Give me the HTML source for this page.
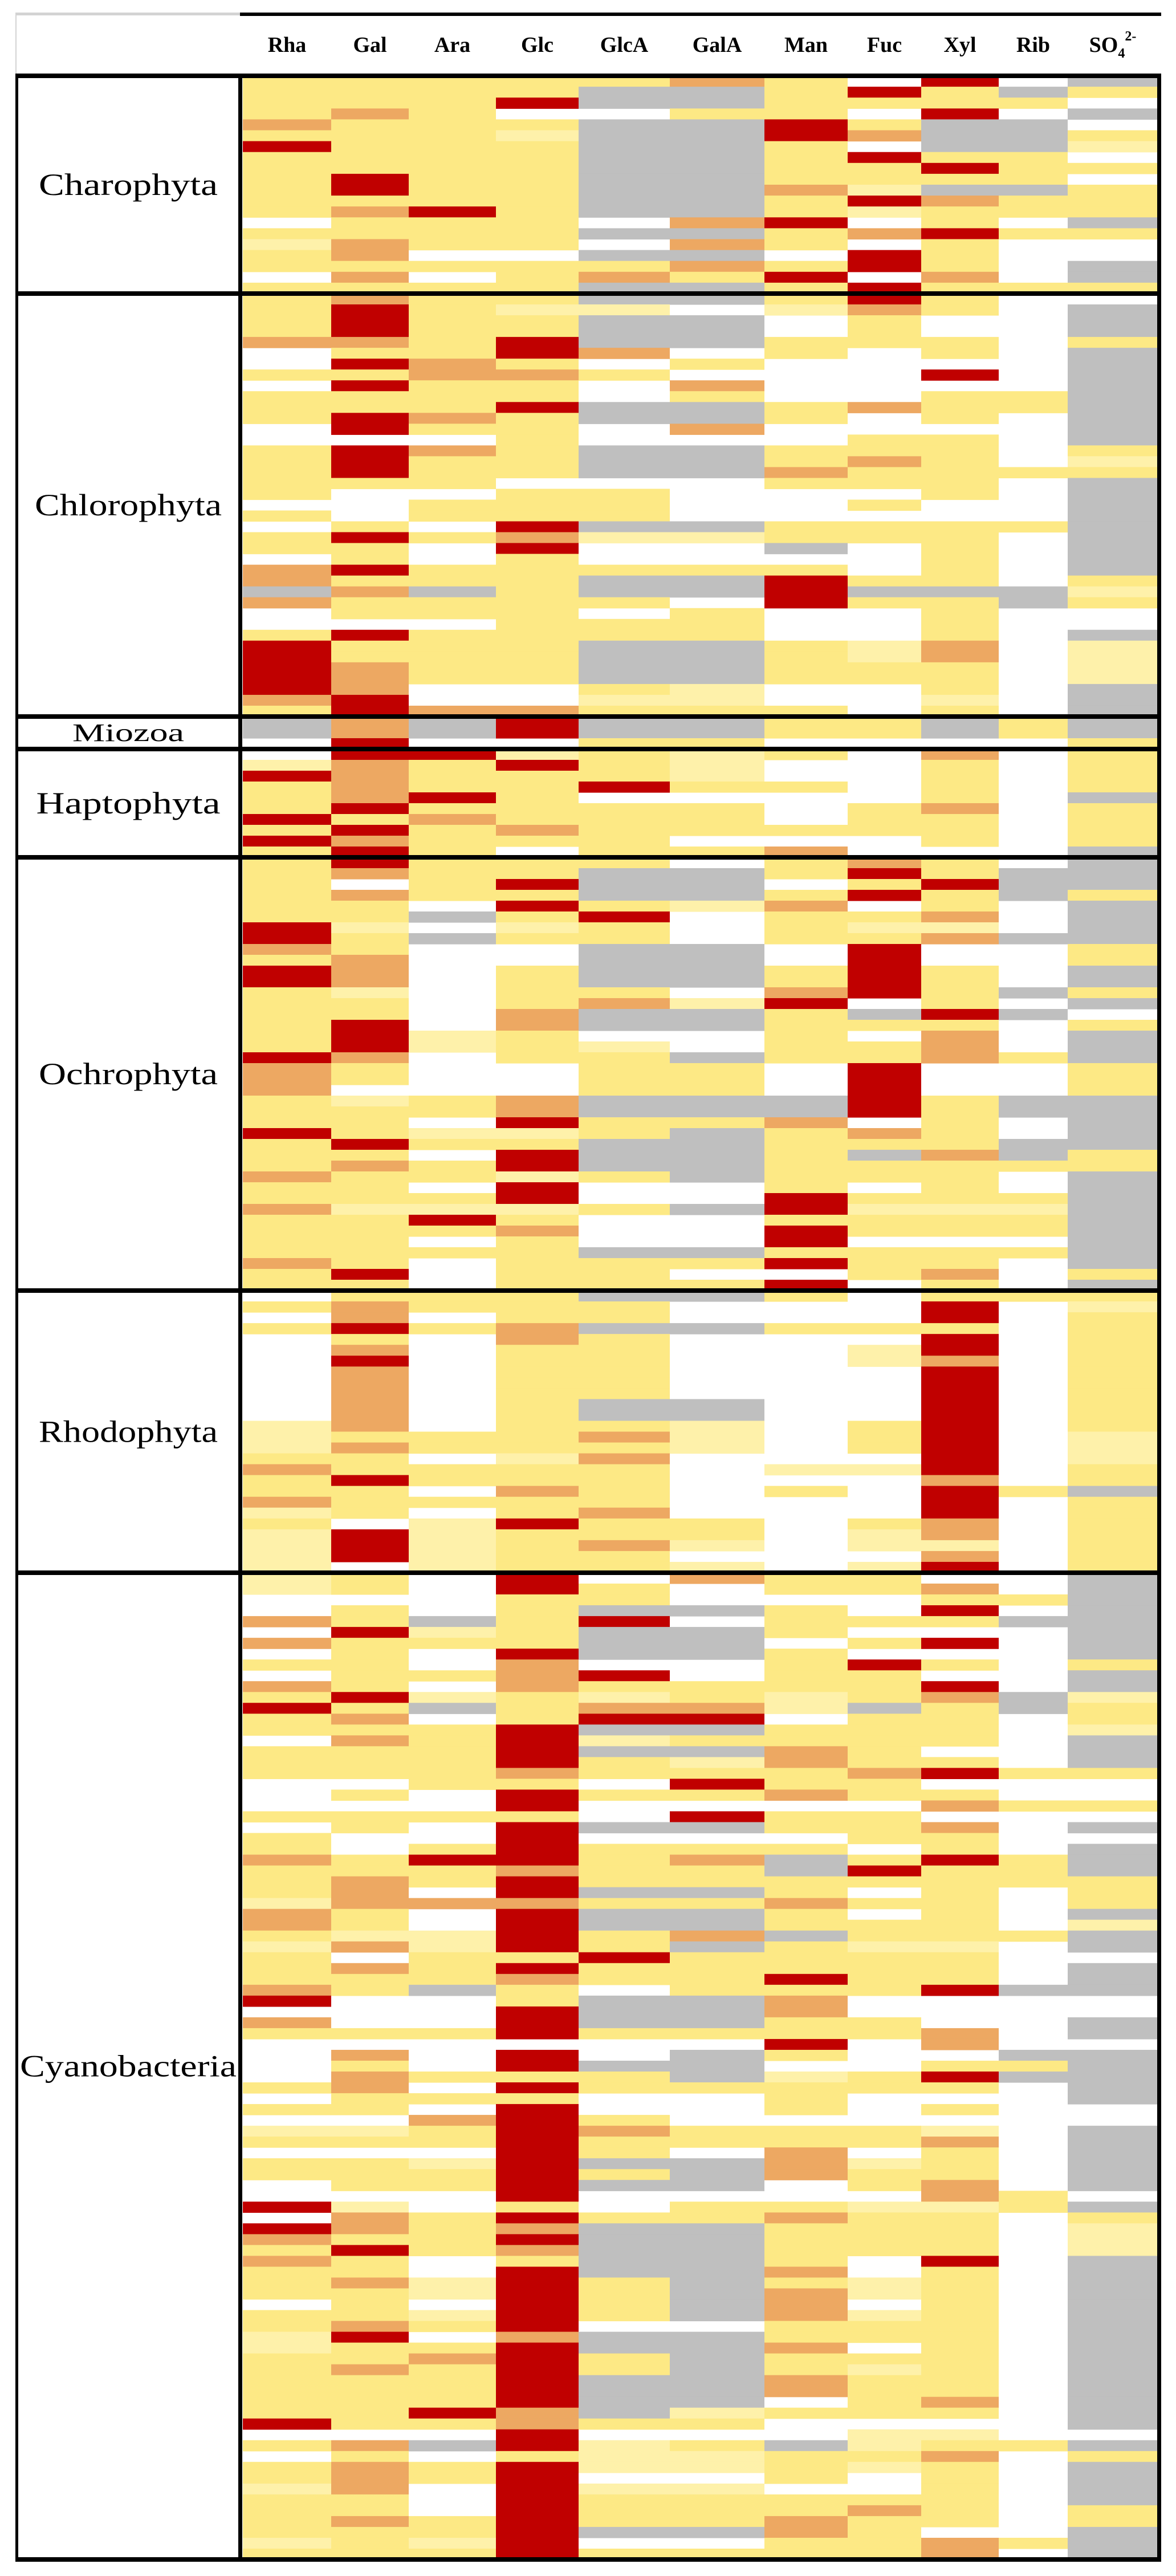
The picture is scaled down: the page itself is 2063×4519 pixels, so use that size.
<!DOCTYPE html>
<html><head><meta charset="utf-8"><style>
html,body{margin:0;padding:0;background:#fff;}
svg{display:block;}
</style></head><body>
<svg id="chart" width="2063" height="4519" viewBox="0 0 2063 4519" xmlns="http://www.w3.org/2000/svg">
<rect x="0" y="0" width="2063" height="4519" fill="#fff"/>
<g id="cells"></g>
<g id="lines"></g>
<g id="labels"></g>
</svg>
<script>
const columns = ["Rha","Gal","Ara","Glc","GlcA","GalA","Man","Fuc","Xyl","Rib","SO4"];
const groups = ["Charophyta","Chlorophyta","Miozoa","Haptophyta","Ochrophyta","Rhodophyta","Cyanobacteria"];
const charophyta = ["YYYYYOYWRWG","YYYYGGYRYGY","YYYRGGYYYYW","YOYWWYYWRWG","OYYYGGRYGGW","YYYLGGROGGY","RYYYGGYWGGL","YYYYGGYRYYW","YYYYGGYYRYY","YRYYGGYYYYW","YRYYGGOLGGY","YYYYGGYROYY","YORYGGYLYYY","WYYYWORWYWG","YYYYGGYORYY","LOYYWOYWYWW","YOWWGGWRYWW","YYYYYOYRYWG","WOWYOYRWOWG","YYYYGGYRYYY"];
const chlorophyta = ["YOYYGGYRYWW","YRYLLWLOYWG","YRYYGGWYWWG","YRYYGGWYWWG","OOYRGGYYYWY","WYYROWYWYWG","WROYWYWWWWG","YYOOYWWWRWG","WRYYWOWWWWG","YYYYWYWWYYG","YYYRGGYOYYG","YROYGGYWYWG","WRYYWOWWWWG","WWWYWWWYYWG","YROYGGYYYWY","YRYYGGYOYWL","YRYYGGOYYYY","YYYWWWYYYWG","YWWYYWWWYWG","WWYYYWWYWWG","YWYYYWWWWWG","WYWRGGYYYYG","YRYOLLYYYWG","YYWRWWGWYWG","WYWYWWWWYWG","ORYYYYYWYWG","OYYYGGRYYWY","GOGYGGRGGGL","OYYYYWRYYGY","WYYYWYWWYWW","WWWYYYWWYWW","YRYYYYWWYWG","RYYYGGYLOWL","RYYYGGYLOWL","ROYYGGYYYWL","ROYYGGYYYWL","ROWWYLWWYWG","ORWWLLWWLWG","YROOYYYWYWG"];
const miozoa = ["GOGRGGYYGYG","GOGRGGYYGYG","WRWWYYWWWWY"];
const haptophyta = ["WRRLYLYWOWY","LOYRYLWWYWY","ROYYYLWWYWY","YOYYRYYWYWY","YORYWWWWYWG","YRYYYYWYOWY","RYOYYYWYYWY","YRYOYYYYYWY","ROYYYWWWYWY","YRYWYYOWWWG"];
const ochrophyta = ["YRYYYWYOYWG","YOYYGGYRYGG","YWYRGGWYRGG","YOYYGGYRYGY","YYWRYLOWYWG","YYGYRWYYOWG","RLWLYWYLLWG","RYGYYWYYOGG","OYWWGGWRWWY","YOWWGGWRWWY","ROWYGGYRYWG","ROWYGGYRYWG","YLWYYWORYGY","YYWYOLRWYWG","YYWOGGYGRGW","YRWOGGYYYWY","YRLYWWYWOWG","YRLYLWYYOWG","ROWYYGYYOYG","OYWWYYWRWWY","OYWWYYWRWWY","OWWWYYWRWWY","YLYOGGGRYGG","YYYOGGGRYGG","YYWRYYOWYWG","RYLLYGYOYWG","YRYYGGYYYGG","YYWRGGYGOGY","YOYRGGYYYYY","OYYLYGYYYWG","YYWRWWYWYWG","YYYRWWRYYYG","OLLLYGRLLLG","YYRYWWYYYYG","YYYOWWRYYYG","YYWYWWRWWWG","YYYYGGYYYYG","OYWYYYRYYWG","YRWYYWWYOWY","YYWYYYRWYWG"];
const rhodophyta = ["WYYYGGYWYYY","YOYYYWWWRWL","WOWYYWWWRWY","YRYOGGYYYWY","WYWOYWWWRWY","WOWYYWWLRWY","WRWYYWWLOWY","WOWYYWWWRWY","WOWYYWWWRWY","WOWYYWWWRWY","WOWYGGWWRWY","WOWYGGWWRWY","LOWYYLWYRWY","LYYYOLWYRWL","LOYYYLWYRWL","YYWLOWWWRWL","OYYYYWLLRWY","YRYYYWWWOWY","YYWOYWYWRYG","OYYYYWWWRWY","LYWYOWWWRWY","YWLRYYWYOWY","LRLYYYWLOWY","LRLYOLWLLWY","LRLYYWWWOWY","LWLYYLWLRWY"];
const cyanobacteria = ["LYWRWOYYWWG","LYWRYWYYOWG","WWWYYWWWYYG","WYWYGGYWRWG","OYGYRWYYYGG","WRLYGGYWWWG","OYYYGGWYRWG","WYWRGGYWWWG","YYWOWWYRYWY","WYYORWYYWWG","OYWOYYYYRWG","YRLYLYLYOGL","RYGYOOLGYGY","YOWYRRWYYWY","YYYRGGYYYWL","WOYRLYYYYWG","YYYRGGOYWWG","YYYRYLOYYWG","YYYOYYYORYY","WWYYWRYYWWW","WYWRYYOYYWW","WWWRWWWWOYY","YYYYWRYYWWW","WYWRGGYYOWG","YWWRWWWYYWW","YWYRYYYWYWG","OYRRYOGYRYG","YYYOYYGRYYG","YOYRYYYYYYY","YOWRGGYWYWY","LOOOYYOYYWY","OYWRGGYWYWG","OYWRGGYYYWL","YLLRYOGYYYG","LOLRYGYLLWG","YWYYRYYYYWW","YOYRYYYYYWG","YYYOYYRYYWG","OYGYWYYYRGG","RWWYGGOWWWW","WWWRGGOWWWW","OWWRGGYYWWG","YYYRYYYYOWG","WWWWWWRWOWW","WOWRWGYWWGG","WYWRGGWWYYG","WOYYYGLYRGG","YOWRYYYYYWG","WYYYWWYWWWG","YYWRWWYWYWW","WWORYWWWWWW","LLYROYYYLWG","YYYRYYYYOWG","WWWRYWOWYWG","YYLRGGOLYWG","YYYRYGOYYWG","WYYRGGWYOWG","WWWRWWWWOYW","RLWYWYYLLYG","WOYRYYOYYWY","ROYOGGYYYWL","OYYRGGYYYWL","YRYOGGYYYWL","OYWYGGYWRWG","YYWRGGOWYWG","YOLRYGYLYWG","YYLRYGOLYWG","WYWRYGOWYWG","YYLRYGOLYWG","YOYRWWYYYWG","LRWOGGYYYWG","LYYRGGOWYWG","YYORYGYYYWG","YOYRYGYLYWG","YYYRGGOYYWG","YYYRGGOYYWG","YYYRGGWYOWG","YYROGLYYYWG","RYYOYYWWWWG","WWWRWWWLLWW","YOGRLYGLYYG","WYWYLLYYOWY","YOYRLLYLYWG","YOYRWWYWYWG","LOWRLLWWYWG","YYWRYYYYYWG","YYWRYYYOYWY","YOYRYYOYYWY","YYYRGGOYWWG","LYLRWWYYOYG","YYYRYYYYOWG"];
const groupRows = [charophyta, chlorophyta, miozoa, haptophyta, ochrophyta, rhodophyta, cyanobacteria];

const NS = "http://www.w3.org/2000/svg";
const colorMap = {Y:"#FDE985", L:"#FEF1AA", O:"#EDA862", R:"#C00000", G:"#BFBFBF", W:"#FFFFFF"};
const colEdges = [426,581,717,870,1015,1175,1341,1487,1616,1752,1873,2031];
const lineYs = [133,515,1257,1314,1504,2264,2759,4490];
const labelWidths = [314,328,196,323,314,314,380];
function xScale(i){ return colEdges[i]; }
function colWidth(i){ return colEdges[i+1]-colEdges[i]; }

const cellsG = document.getElementById('cells');
const linesG = document.getElementById('lines');
const labelsG = document.getElementById('labels');

function mk(tag, attrs){
  const e = document.createElementNS(NS, tag);
  for (const k in attrs) e.setAttribute(k, attrs[k]);
  return e;
}

groupRows.forEach((rows, gi) => {
  const top = lineYs[gi], bot = lineYs[gi+1];
  const rh = (bot - top) / rows.length;
  rows.forEach((row, ri) => {
    for (let ci = 0; ci < columns.length; ci++) {
      const code = row[ci];
      if (code === 'W') continue;
      const r = mk('rect', {x: xScale(ci), y: (top + ri*rh).toFixed(2), width: colWidth(ci), height: (rh+0.6).toFixed(2), fill: colorMap[code]});
      
      
      cellsG.appendChild(r);
    }
  });
  const t = mk('text', {x: 225, y: ((top+bot)/2).toFixed(1), 'text-anchor':'middle', 'dominant-baseline':'central', 'font-family':'"Liberation Serif", serif', 'font-size': gi===2 ? 44 : 54, textLength: labelWidths[gi], lengthAdjust:'spacingAndGlyphs', fill:'#000'});
  t.textContent = groups[gi];
  
  
  labelsG.appendChild(t);
});

// lines
const hdrTop = mk('rect', {x:421, y:22, width:1616, height:6, fill:'#000'});


linesG.appendChild(hdrTop);
const hdrTopGray = mk('rect', {x:27, y:22, width:394, height:5, fill:'#d3d3d3'});


linesG.appendChild(hdrTopGray);
const hdrLeftGray = mk('rect', {x:27, y:22, width:2, height:112, fill:'#d3d3d3'});


linesG.appendChild(hdrLeftGray);
lineYs.forEach((y, i) => {
  const l = mk('rect', {x:27, y:y-4, width:2010, height:8, fill:'#000'});
  
  
  linesG.appendChild(l);
});
[[27,5],[418,7],[2030,7]].forEach(([x,w]) => {
  const v = mk('rect', {x:x, y:lineYs[0]-4, width:w, height:lineYs[lineYs.length-1]-lineYs[0]+8, fill:'#000'});
  
  
  linesG.appendChild(v);
});

// header labels
columns.forEach((c, ci) => {
  const cx = (colEdges[ci] + colEdges[ci+1]) / 2;
  const t = mk('text', {x: cx, y: 91, 'text-anchor':'middle', 'font-family':'"Liberation Serif", serif', 'font-size': 38, 'font-weight':'bold', fill:'#000'});
  if (c === 'SO4') {
    t.textContent = 'SO';
    const s1 = mk('tspan', {'font-size': 24, dy: 10});
    s1.textContent = '4';
    const s2 = mk('tspan', {'font-size': 24, dy: -30});
    s2.textContent = '2-';
    t.appendChild(s1); t.appendChild(s2);
  } else {
    t.textContent = c;
  }
  
  
  labelsG.appendChild(t);
});
</script>
</body></html>
